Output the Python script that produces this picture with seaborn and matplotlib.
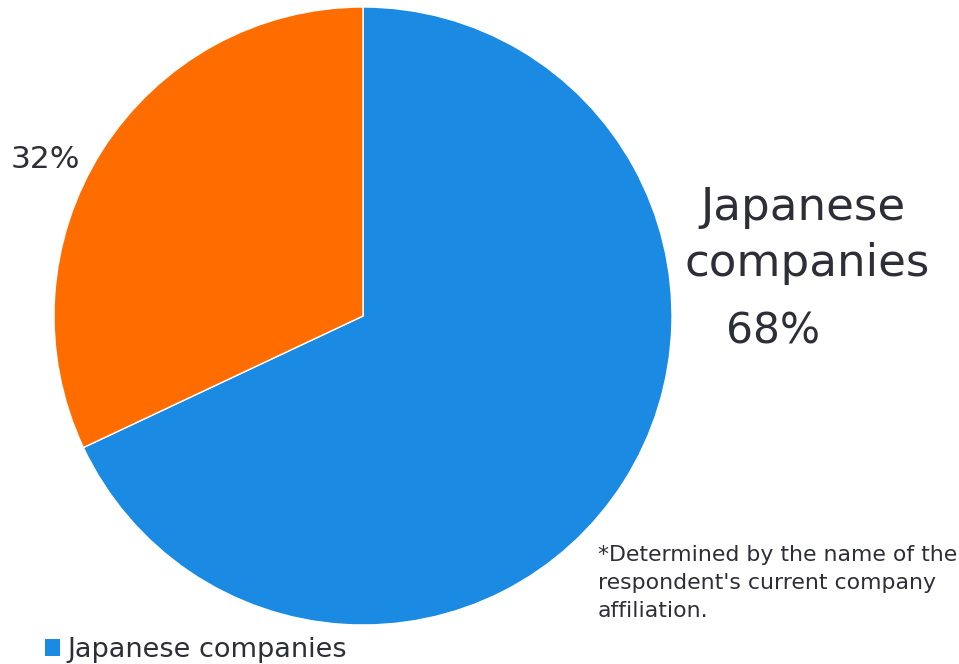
import matplotlib
matplotlib.use("Agg")
import matplotlib.pyplot as plt
import seaborn as sns
from matplotlib.patches import Patch

# Share of respondents by company affiliation
categories = ["Japanese companies", "Foreign companies"]
shares = [68, 32]
colors = ["#1a8ae3", "#ff6d00"]
footnote_lines = [
    "*Determined by the name of the",
    "respondent's current company",
    "affiliation.",
]

sns.set_theme(style="white")
plt.rcParams["font.family"] = ["DejaVu Sans"]
text_color = "#2e2e38"

W, H = 959, 664
fig = plt.figure(figsize=(W / 100, H / 100), dpi=100)


def fx(px):
    return px / W


def fy(py):
    return 1 - py / H


# Pie centred at (363, 316) px with radius 309 px
cx, cy, r = 363, 316, 309
ax = fig.add_axes([fx(cx - r), fy(cy + r), 2 * r / W, 2 * r / H])
ax.pie(
    shares,
    colors=colors,
    startangle=90,
    counterclock=False,
    radius=1.0,
    wedgeprops=dict(edgecolor="white", linewidth=1.0),
)
ax.set_xlim(-1, 1)
ax.set_ylim(-1, 1)
ax.set_aspect("equal")
ax.axis("off")

# Slice labels
word1, word2 = categories[0].split()
fig.text(fx(803), fy(220), word1, ha="center", va="baseline",
         fontsize=32.5, color=text_color)
fig.text(fx(807), fy(276), word2, ha="center", va="baseline",
         fontsize=32.5, color=text_color)
fig.text(fx(773), fy(343), f"{shares[0]}%", ha="center", va="baseline",
         fontsize=30.5, color=text_color)
fig.text(fx(45), fy(168), f"{shares[1]}%", ha="center", va="baseline",
         fontsize=22.5, color=text_color)

# Footnote
for i, line in enumerate(footnote_lines):
    fig.text(fx(598), fy(561 + 28 * i), line, ha="left", va="baseline",
             fontsize=15.8, color=text_color)

# Legend
handles = [Patch(facecolor=colors[0], edgecolor="none")]
fig.legend(handles, [categories[0]], loc="lower left",
           bbox_to_anchor=(fx(45), fy(663)), borderaxespad=0, borderpad=0,
           frameon=False, fontsize=19.5, handlelength=0.55, handleheight=0.55,
           handletextpad=0.26, labelcolor=text_color)

fig.savefig("out.png", dpi=100)
